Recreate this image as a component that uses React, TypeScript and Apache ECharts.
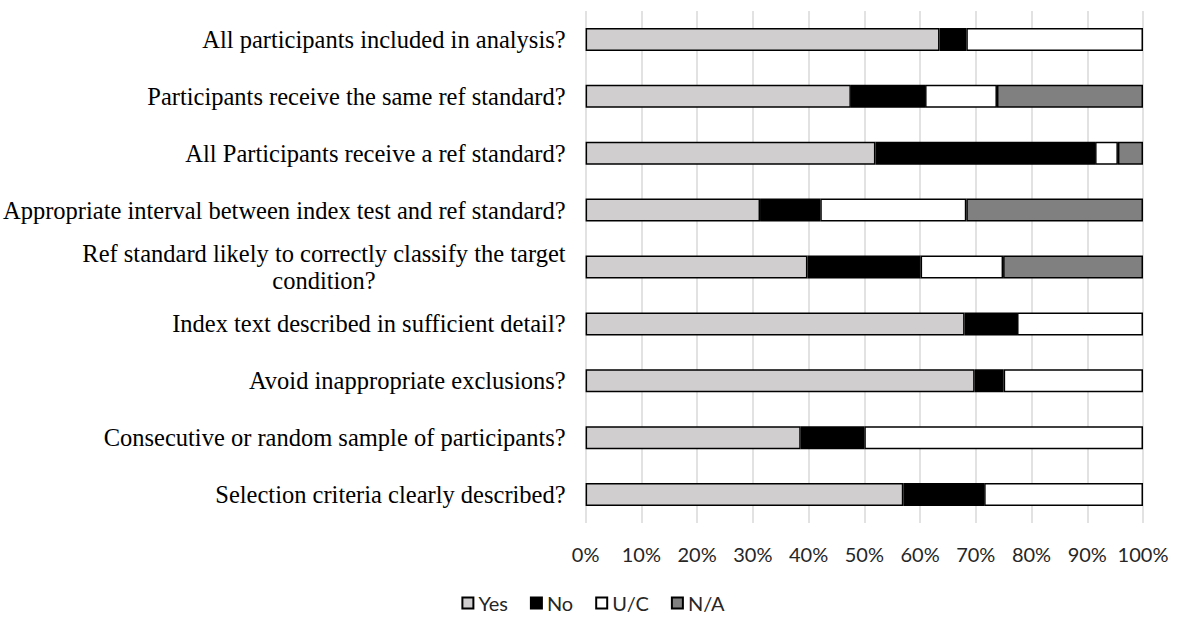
import React, { useEffect, useRef } from "react";
import * as echarts from "echarts";

// Categories, top to bottom
const categories: string[] = [
  "All participants included in analysis?",
  "Participants receive the same ref standard?",
  "All Participants receive a ref standard?",
  "Appropriate interval between index test and ref standard?",
  "Ref standard likely to correctly classify the target condition?",
  "Index text described in sufficient detail?",
  "Avoid inappropriate exclusions?",
  "Consecutive or random sample of participants?",
  "Selection criteria clearly described?",
];

// Percentages
const yesValues: number[] = [63.5, 47.6, 52.0, 31.3, 39.8, 68.0, 69.8, 38.6, 57.0];
const noValues: number[] = [4.8, 13.3, 39.4, 10.8, 20.3, 9.4, 5.2, 11.4, 14.5];
const ucValues: number[] = [31.7, 12.9, 4.1, 26.2, 14.8, 22.6, 25.0, 50.0, 28.5];
const naValues: number[] = [0, 26.2, 4.5, 31.7, 25.1, 0, 0, 0, 0];

const seriesNames: string[] = ["Yes", "No", "U/C", "N/A"];
const seriesColors: string[] = ["#d0cece", "#000000", "#ffffff", "#808080"];
const tickValues: number[] = [0, 10, 20, 30, 40, 50, 60, 70, 80, 90, 100];

function wrap(text: string, max: number): string {
  const words = text.split(" ");
  const lines: string[] = [];
  let cur = "";
  for (const w of words) {
    const next = cur ? cur + " " + w : w;
    if (next.length > max && cur) {
      lines.push(cur);
      cur = w;
    } else {
      cur = next;
    }
  }
  if (cur) lines.push(cur);
  return lines.map((l) => "{a|" + l + "}").join("\n");
}

export default function App() {
  const ref = useRef<HTMLDivElement>(null);
  useEffect(() => {
    document.body.style.margin = "0";
    if (!ref.current) return;
    const chart = echarts.init(ref.current, undefined, { renderer: "svg" });
    const all = [yesValues, noValues, ucValues, naValues];
    chart.setOption({
      animation: false,
      backgroundColor: "#ffffff",
      grid: { left: 585, right: 43, top: 11, bottom: 96, containLabel: false },
      legend: {
        data: seriesNames,
        left: "center",
        top: 589,
        padding: [4, 5, 4, 5],
        itemWidth: 11,
        itemHeight: 11,
        itemGap: 22,
        icon: "rect",
        textStyle: { fontFamily: "Lato", fontSize: 20, color: "#262626" },
      },
      xAxis: {
        type: "value",
        min: 0,
        max: 100,
        interval: 10,
        axisLine: { show: false },
        axisTick: { show: false },
        splitLine: { show: true, lineStyle: { color: "#d9d9d9", width: 1.5 } },
        axisLabel: {
          formatter: (v: number) => (tickValues.includes(v) ? v + "%" : ""),
          fontFamily: "Lato",
          fontSize: 20,
          color: "#262626",
          margin: 21,
        },
      },
      yAxis: {
        type: "category",
        inverse: true,
        data: categories,
        axisLine: { show: false },
        axisTick: { show: false },
        splitLine: { show: false },
        axisLabel: {
          margin: 20,
          formatter: (v: string) => wrap(v, 60),
          rich: {
            a: {
              align: "center",
              fontFamily: "Liberation Serif",
              fontSize: 24.5,
              lineHeight: 27,
              color: "#000000",
            },
          },
        },
      },
      series: seriesNames.map((name, i) => ({
        name,
        type: "bar",
        stack: "total",
        barWidth: 23,
        data: all[i].map((v) => (v === 0 ? null : v)),
        itemStyle: {
          color: seriesColors[i],
          borderColor: "#000000",
          borderWidth: 1.5,
        },
      })),
    });
    return () => chart.dispose();
  }, []);
  return <div ref={ref} style={{ width: 1186, height: 619 }} />;
}
